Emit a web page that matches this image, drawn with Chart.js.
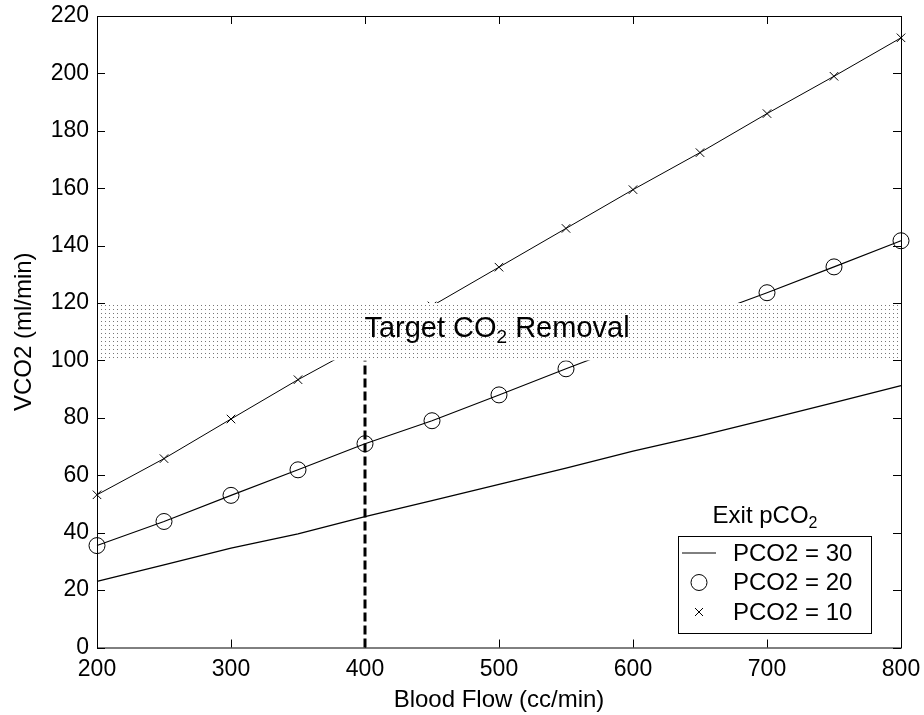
<!DOCTYPE html>
<html>
<head>
<meta charset="utf-8">
<script src="https://cdn.jsdelivr.net/npm/chart.js@4.4.1/dist/chart.umd.min.js"></script>
<style>
  html, body { margin: 0; padding: 0; background: #fff; }
</style>
</head>
<body>
<canvas id="co2Chart" width="924" height="715"></canvas>
<script>
// data
const flows = [200, 250, 300, 350, 400, 450, 500, 550, 600, 650, 700, 750, 800];
const pco2_30 = [23, 28.8, 34.6, 39.6, 45.6, 51.2, 56.8, 62.5, 68.4, 73.7, 79.5, 85.3, 91.2];
const pco2_20 = [35.5, 43.9, 53, 61.9, 71, 79, 88, 97.1, 106, 115, 123.6, 132.6, 141.7];
const pco2_10 = [53.2, 65.8, 79.6, 93.3, 106, 119, 132.5, 146, 159.5, 172.4, 186, 199, 212.4];
const targetFlow = [400, 400];
const targetVco2 = [0, 100];
const targetBand = [100, 120];
const xTicks = [200, 300, 400, 500, 600, 700, 800];
const yTicks = [0, 20, 40, 60, 80, 100, 120, 140, 160, 180, 200, 220];

const FONT = '"Liberation Sans", Arial, Helvetica, sans-serif';
const pts = (xs, ys) => xs.map((x, i) => ({ x: x, y: ys[i] }));

// dotted fill for the target band
function dotPattern(ctx) {
  const c = document.createElement('canvas');
  c.width = 4; c.height = 4;
  const g = c.getContext('2d');
  g.fillStyle = '#fff';
  g.fillRect(0, 0, 4, 4);
  g.fillStyle = '#777';
  g.fillRect(1, 1, 1, 1);
  return ctx.createPattern(c, 'repeat');
}

// band + text, then the MATLAB-style box with inward ticks
const bandAndBox = {
  id: 'bandAndBox',
  afterDatasetsDraw(chart) {
    const { ctx, chartArea: a, scales: { x, y } } = chart;
    const yTop = y.getPixelForValue(targetBand[1]);
    const yBot = y.getPixelForValue(targetBand[0]);
    ctx.save();
    ctx.fillStyle = dotPattern(ctx);
    ctx.fillRect(a.left, yTop, a.right - a.left, yBot - yTop);

    // label
    ctx.fillStyle = '#000';
    ctx.textBaseline = 'alphabetic';
    ctx.textAlign = 'left';
    const big = '29px ' + FONT, sub = '19px ' + FONT;
    ctx.font = big;
    const w1 = ctx.measureText('Target CO').width;
    const w3 = ctx.measureText(' Removal').width;
    ctx.font = sub;
    const w2 = ctx.measureText('2').width;
    let tx = (a.left + a.right) / 2 - (w1 + w2 + w3) / 2 - 2;
    const ty = y.getPixelForValue(110) + 5;
    ctx.font = big;
    ctx.fillText('Target CO', tx, ty);
    ctx.font = sub;
    ctx.fillText('2', tx + w1, ty + 6);
    ctx.font = big;
    ctx.fillText(' Removal', tx + w1 + w2, ty);

    // box
    ctx.strokeStyle = '#000';
    ctx.lineWidth = 1;
    ctx.strokeRect(a.left + 0.5, a.top + 0.5, a.right - a.left, a.bottom - a.top);
    const tl = 8;
    ctx.beginPath();
    xTicks.forEach(v => {
      const px = Math.round(x.getPixelForValue(v)) + 0.5;
      ctx.moveTo(px, a.bottom); ctx.lineTo(px, a.bottom - tl);
      ctx.moveTo(px, a.top); ctx.lineTo(px, a.top + tl);
    });
    yTicks.forEach(v => {
      const py = Math.round(y.getPixelForValue(v)) + 0.5;
      ctx.moveTo(a.left, py); ctx.lineTo(a.left + tl, py);
      ctx.moveTo(a.right, py); ctx.lineTo(a.right - tl, py);
    });
    ctx.stroke();
    ctx.restore();
  },
  afterDraw(chart) {
    // legend in the lower right corner
    const ctx = chart.ctx;
    const bx = 678, by = 536, bw = 193, bh = 97;
    ctx.save();
    ctx.fillStyle = '#fff';
    ctx.fillRect(bx, by, bw, bh);
    ctx.strokeStyle = '#000';
    ctx.lineWidth = 1;
    ctx.strokeRect(bx + 0.5, by + 0.5, bw, bh);

    ctx.fillStyle = '#000';
    ctx.textAlign = 'left';
    ctx.textBaseline = 'alphabetic';
    ctx.font = '24px ' + FONT;
    const t1 = ctx.measureText('Exit pCO').width;
    ctx.font = '16px ' + FONT;
    const t2 = ctx.measureText('2').width;
    const tx = 765 - (t1 + t2) / 2;
    ctx.font = '24px ' + FONT;
    ctx.fillText('Exit pCO', tx, 523);
    ctx.font = '16px ' + FONT;
    ctx.fillText('2', tx + t1, 528);

    const rows = [
      { label: 'PCO2 = 30', kind: 'line' },
      { label: 'PCO2 = 20', kind: 'circle' },
      { label: 'PCO2 = 10', kind: 'cross' }
    ];
    ctx.font = '24px ' + FONT;
    ctx.textBaseline = 'middle';
    rows.forEach((r, i) => {
      const cy = 553 + i * 29.5;
      const cx = 699;
      ctx.lineWidth = 1;
      ctx.beginPath();
      if (r.kind === 'line') {
        ctx.moveTo(682, cy); ctx.lineTo(716, cy);
      } else if (r.kind === 'circle') {
        ctx.arc(cx, cy, 8, 0, Math.PI * 2);
      } else {
        ctx.moveTo(cx - 4, cy - 4); ctx.lineTo(cx + 4, cy + 4);
        ctx.moveTo(cx + 4, cy - 4); ctx.lineTo(cx - 4, cy + 4);
      }
      ctx.stroke();
      ctx.fillText(r.label, 733, cy + 1);
    });
    ctx.restore();
  }
};

const ctx = document.getElementById('co2Chart').getContext('2d');
new Chart(ctx, {
  type: 'scatter',
  data: {
    datasets: [
      {
        label: 'PCO2 = 30',
        data: pts(flows, pco2_30),
        showLine: true,
        borderColor: '#000',
        borderWidth: 1.3,
        pointRadius: 0,
        clip: false
      },
      {
        label: 'PCO2 = 20',
        data: pts(flows, pco2_20),
        showLine: true,
        borderColor: '#000',
        borderWidth: 1.1,
        pointStyle: 'circle',
        pointRadius: 8,
        pointBorderWidth: 1,
        pointBackgroundColor: 'rgba(0,0,0,0)',
        pointBorderColor: '#000',
        clip: false
      },
      {
        label: 'PCO2 = 10',
        data: pts(flows, pco2_10),
        showLine: true,
        borderColor: '#000',
        borderWidth: 1,
        pointStyle: 'crossRot',
        pointRadius: 6,
        pointBorderWidth: 1,
        pointBorderColor: '#000',
        clip: false
      },
      {
        label: 'target',
        data: pts(targetFlow, targetVco2),
        showLine: true,
        borderColor: '#000',
        borderWidth: 3,
        borderDash: [9, 4],
        pointRadius: 0,
        clip: false
      }
    ]
  },
  options: {
    responsive: false,
    animation: false,
    devicePixelRatio: 1,
    layout: { padding: { top: 16, right: 23, left: 0, bottom: 0 } },
    plugins: {
      legend: { display: false },
      tooltip: { enabled: false }
    },
    scales: {
      x: {
        type: 'linear',
        min: 200,
        max: 800,
        afterFit: s => { s.height = 67.5; s.paddingLeft = 0; s.paddingRight = 0; },
        afterBuildTicks: s => { s.ticks = xTicks.map(v => ({ value: v })); },
        grid: { display: false, drawTicks: false },
        border: { display: false },
        ticks: { color: '#000', font: { family: FONT, size: 23 }, padding: 8 },
        title: {
          display: true,
          text: 'Blood Flow (cc/min)',
          color: '#000',
          font: { family: FONT, size: 24 },
          padding: { top: 0, bottom: 0 }
        }
      },
      y: {
        min: 0,
        max: 220,
        afterFit: s => { s.width = 97; s.paddingTop = 0; s.paddingBottom = 0; },
        afterBuildTicks: s => { s.ticks = yTicks.map(v => ({ value: v })); },
        grid: { display: false, drawTicks: false },
        border: { display: false },
        ticks: { color: '#000', font: { family: FONT, size: 23 }, padding: 8 },
        title: {
          display: true,
          text: 'VCO2 (ml/min)',
          color: '#000',
          font: { family: FONT, size: 24 },
          padding: { top: 10, bottom: 0 }
        }
      }
    }
  },
  plugins: [bandAndBox]
});
</script>
</body>
</html>
